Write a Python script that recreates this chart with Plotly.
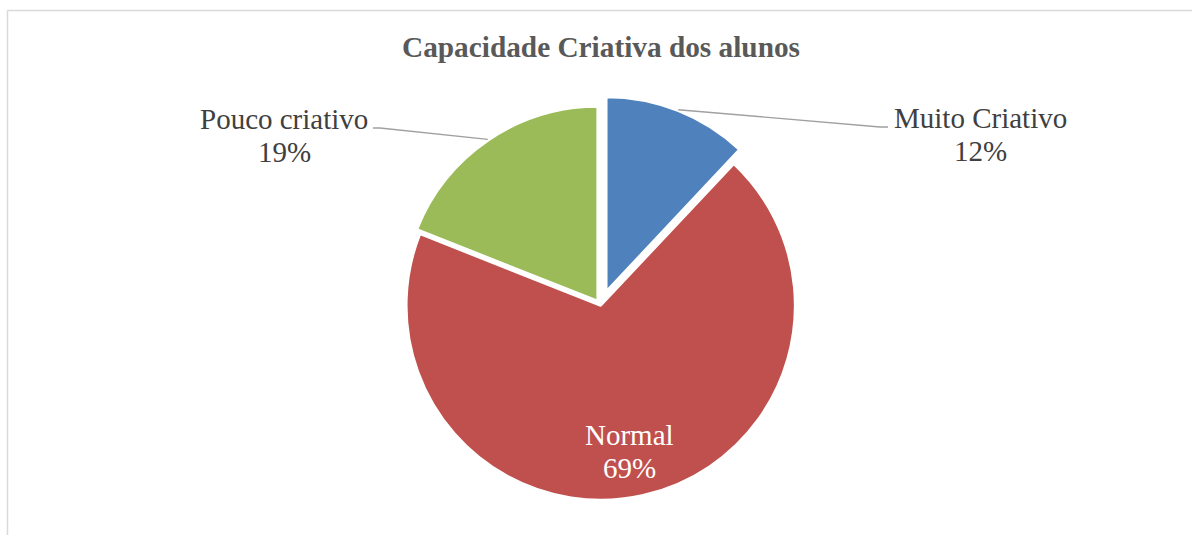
import math
import plotly.graph_objects as go

# ---- data ----
categories = ["Muito Criativo", "Normal", "Pouco criativo"]
values = [12, 69, 19]
colors = ["#4F81BD", "#C0504D", "#9BBB59"]
pulls = [0.078, 0.0, 0.028]
title_text = "Capacidade Criativa dos alunos"

# ---- layout config (pixels) ----
W, H = 1192, 535
CX, CY, R = 600.7, 305.5, 194.4          # pie centre and radius
LABEL_FONT = 29
TITLE_FONT = 29.3
# label anchor (centre x, baseline of first line), text colour, leader end
label_cfg = {
    "Muito Criativo": dict(x=980.5, base=128, color="#404040", leader_end=(888, 127), elbow=(880, 127)),
    "Normal": dict(x=629, base=445, color="#FFFFFF", leader_end=None, elbow=None),
    "Pouco criativo": dict(x=284, base=129, color="#404040", leader_end=(373, 128), elbow=(380, 128)),
}
LINE_GAP = 33


def px(x):
    return x / W


def py(y):
    return 1 - y / H


half = R * (1 + max(pulls))
fig = go.Figure(
    go.Pie(
        labels=categories,
        values=values,
        sort=False,
        direction="clockwise",
        rotation=0,
        pull=pulls,
        marker=dict(colors=colors, line=dict(color="white", width=2.5)),
        textinfo="none",
        showlegend=False,
        domain=dict(x=[px(CX - half), px(CX + half)], y=[py(CY + half), py(CY - half)]),
    )
)

total = sum(values)
annotations = []
shapes = []
cum = 0
for cat, val, pl in zip(categories, values, pulls):
    mid = (cum + val / 2) / total * 2 * math.pi
    cum += val
    dx, dy = math.sin(mid), -math.cos(mid)
    pcx, pcy = CX + pl * R * dx, CY + pl * R * dy
    cfg = label_cfg[cat]
    pct = f"{round(val / total * 100)}%"
    off = 0.3375 * LABEL_FONT
    for i, txt in enumerate([cat, pct]):
        annotations.append(dict(
            x=px(cfg["x"]), y=py(cfg["base"] + i * LINE_GAP - off),
            xref="paper", yref="paper", xanchor="center", yanchor="middle",
            text=txt, showarrow=False,
            font=dict(family="Liberation Serif", size=LABEL_FONT, color=cfg["color"]),
        ))
    if cfg["leader_end"] is not None:
        sx, sy = pcx + (R + 1) * dx, pcy + (R + 1) * dy
        ex, ey = cfg["elbow"]
        lx, ly = cfg["leader_end"]
        path = f"M {px(sx)} {py(sy)} L {px(ex)} {py(ey)} L {px(lx)} {py(ly)}"
        shapes.append(dict(type="path", xref="paper", yref="paper", path=path,
                           line=dict(color="#A0A0A0", width=1.4)))

# title
annotations.append(dict(
    x=px(601), y=py(57 - 0.3375 * TITLE_FONT), xref="paper", yref="paper",
    xanchor="center", yanchor="middle", text=f"<b>{title_text}</b>", showarrow=False,
    font=dict(family="Liberation Serif", size=TITLE_FONT, color="#595959"),
))

# chart-area border (top and left visible)
shapes.append(dict(type="line", xref="paper", yref="paper", x0=px(7.5), y0=py(10.5), x1=px(1200), y1=py(10.5),
                   line=dict(color="#D9D9D9", width=1.5)))
shapes.append(dict(type="line", xref="paper", yref="paper", x0=px(7.5), y0=py(10.5), x1=px(7.5), y1=py(545),
                   line=dict(color="#D9D9D9", width=1.5)))

fig.update_layout(
    width=W, height=H,
    margin=dict(l=0, r=0, t=0, b=0),
    paper_bgcolor="white", plot_bgcolor="white",
    annotations=annotations, shapes=shapes,
    font=dict(family="Liberation Serif"),
)

fig.write_html("out.html", config={"displayModeBar": False},
               post_script="document.body.style.margin='0';document.body.style.overflow='hidden';")
